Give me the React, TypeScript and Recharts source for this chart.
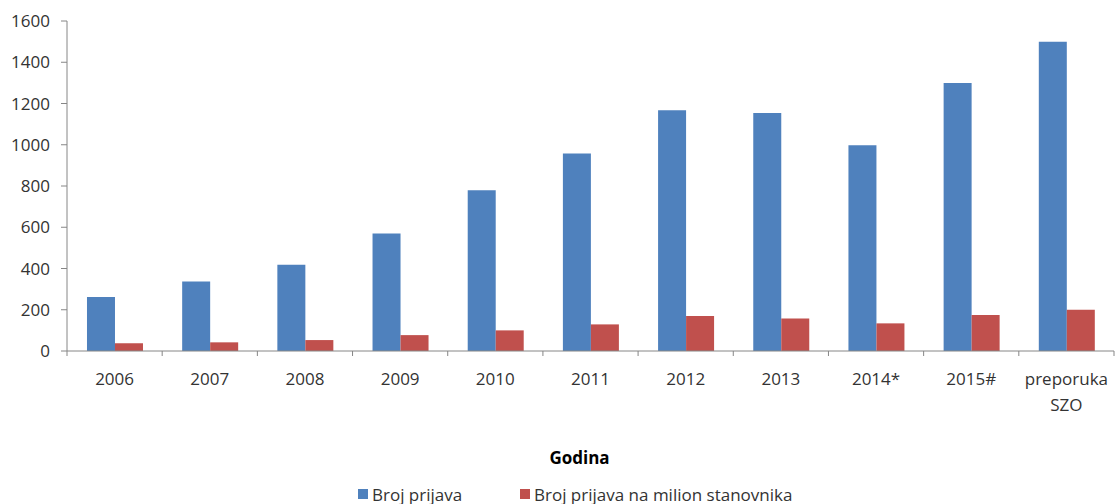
import React from 'react';
import { BarChart, Bar, XAxis, YAxis, Legend } from 'recharts';

const categories = ['2006', '2007', '2008', '2009', '2010', '2011', '2012', '2013', '2014*', '2015#', 'preporuka SZO'];
const brojPrijava = [262, 337, 418, 570, 779, 958, 1167, 1154, 997, 1299, 1500];
const naMilion = [37, 42, 53, 77, 100, 129, 170, 158, 134, 175, 200];
const yTicks = [0, 200, 400, 600, 800, 1000, 1200, 1400, 1600];
const seriesNames = ['Broj prijava', 'Broj prijava na milion stanovnika'];
const seriesColors = ['#4F81BD', '#C0504D'];
const axisTitle = 'Godina';

const data = categories.map((c, i) => ({ name: c, a: brojPrijava[i], b: naMilion[i] }));

const AXIS = '#868686';
const TEXT = '#333333';
const FONT = '"Open Sans", "Noto Sans", sans-serif';
const FS = 17;

const CategoryTick = (props: any) => {
  const { x, y, payload, index, visibleTicksCount } = props;
  const half = payload && payload.offset != null ? payload.offset : 47.6;
  const lines = String(payload.value).split(' ');
  const isLast = index === (visibleTicksCount != null ? visibleTicksCount - 1 : categories.length - 1);
  return (
    <g>
      <line x1={x - half} x2={x - half} y1={y} y2={y + 5} stroke={AXIS} />
      {isLast && <line x1={x + half} x2={x + half} y1={y} y2={y + 5} stroke={AXIS} />}
      <text x={x} y={y + 34} textAnchor="middle" fill={TEXT} fontSize={FS} fontFamily={FONT}>
        {lines.map((l, i) => (
          <tspan key={i} x={x} dy={i === 0 ? 0 : 26}>
            {l}
          </tspan>
        ))}
      </text>
    </g>
  );
};

const LegendContent = () => (
  <div style={{ display: 'flex', alignItems: 'center', height: 20, paddingTop: 2, fontSize: FS, color: TEXT, fontFamily: FONT }}>
    {seriesNames.map((n, i) => (
      <div key={n} style={{ display: 'flex', alignItems: 'center', width: i === 0 ? 162 : 'auto' }}>
        <span style={{ display: 'inline-block', width: 10, height: 10, background: seriesColors[i], marginRight: 4 }} />
        <span style={{ whiteSpace: 'nowrap' }}>{n}</span>
      </div>
    ))}
  </div>
);

export default function App() {
  return (
    <div style={{ position: 'absolute', left: 0, top: 0, width: 1115, height: 504, background: '#fff', fontFamily: FONT, overflow: 'hidden' }}>
      <BarChart
        width={1115}
        height={504}
        data={data}
        margin={{ top: 21, right: 1, left: 0, bottom: 0 }}
        barCategoryGap="21%"
        barGap={0}
      >
        <YAxis
          width={67}
          domain={[0, 1600]}
          ticks={yTicks}
          interval={0}
          tickSize={6}
          tickMargin={11}
          axisLine={{ stroke: AXIS }}
          tickLine={{ stroke: AXIS }}
          tick={{ fill: TEXT, fontSize: FS, fontFamily: FONT }}
        />
        <XAxis
          dataKey="name"
          height={131}
          interval={0}
          tickSize={0}
          tickMargin={0}
          tickLine={false}
          axisLine={{ stroke: AXIS }}
          tick={<CategoryTick />}
          label={{
            value: axisTitle,
            position: 'insideBottom',
            offset: 18,
            dx: -11,
            fill: '#000',
            fontSize: FS,
            fontWeight: 'bold',
            fontFamily: FONT,
          }}
        />
        <Legend verticalAlign="bottom" align="left" wrapperStyle={{ left: 358, width: 700 }} content={<LegendContent />} />
        <Bar dataKey="a" name={seriesNames[0]} fill={seriesColors[0]} isAnimationActive={false} />
        <Bar dataKey="b" name={seriesNames[1]} fill={seriesColors[1]} isAnimationActive={false} />
      </BarChart>
    </div>
  );
}
